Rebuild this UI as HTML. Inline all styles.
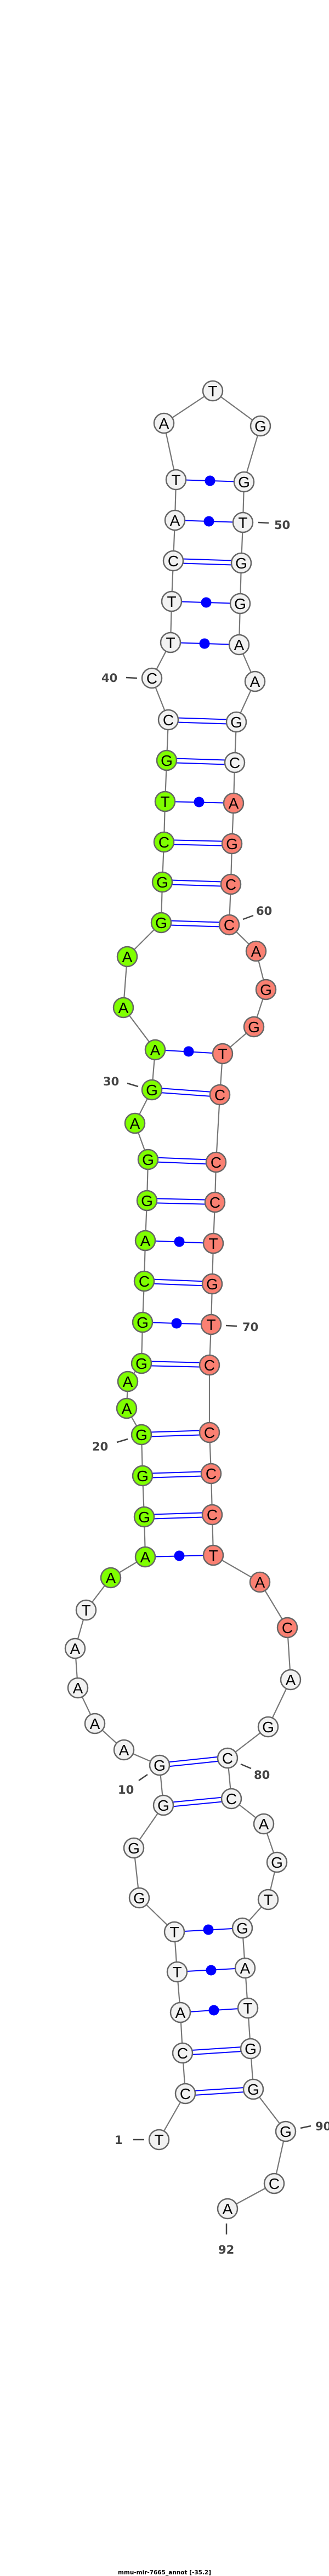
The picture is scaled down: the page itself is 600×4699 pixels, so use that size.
<!DOCTYPE html>
<html><head><meta charset="utf-8"><style>
html,body{margin:0;padding:0;background:#fff;}
svg{display:block;}
.n{stroke:#666;stroke-width:2.5;}
.w{fill:#f2f2f2;}.g{fill:#7fff00;}.s{fill:#fa8072;}
.t text{font-family:"Liberation Sans",sans-serif;font-size:28px;text-anchor:middle;fill:#000;}
.l{font-family:"DejaVu Sans","Liberation Sans",sans-serif;font-weight:bold;font-size:21px;fill:#444;}
.p{stroke:#0000ff;stroke-width:2;}
.d{stroke:#444;stroke-width:2.5;}
</style></head><body>
<svg width="600" height="4699" viewBox="0 0 600 4699" xmlns="http://www.w3.org/2000/svg">
<polyline fill="none" stroke="#777" stroke-width="2.2" points="290,3903 338,3819 333,3745 329,3671 323,3597 318,3524 254,3462 244,3371 298,3293 291,3220 226,3192 173,3144 142,3079 137,3007 157,2937 202,2878 265,2840 263,2767 260,2692 258,2617 231,2569 233,2520 258,2487 260,2412 263,2337 265,2263 268,2190 270,2115 246,2049 277,1988 283,1915 225,1838 232,1745 294,1683 296,1609 299,1536 301,1462 304,1387 307,1313 277,1237 311,1172 313,1097 316,1023 319,949 321,875 299,772 388,713 475,777 445,879 443,953 440,1027 438,1101 436,1176 465,1243 431,1317 428,1391 426,1465 423,1539 421,1613 418,1687 467,1735 485,1805 463,1873 406,1922 401,1997 394,2120 392,2193 389,2268 387,2342 385,2416 382,2490 382,2613 385,2688 387,2763 389,2837 474,2886 524,2969 530,3064 489,3150 415,3207 422,3281 481,3327 505,3397 489,3465 442,3517 447,3590 452,3663 457,3737 462,3811 521,3888 500,3983 415,4029"/>
<g class="p">
<line x1="338" y1="3815" x2="462" y2="3807"/><line x1="338" y1="3823" x2="462" y2="3815"/>
<line x1="333" y1="3741" x2="457" y2="3733"/><line x1="333" y1="3749" x2="457" y2="3741"/>
<line x1="298" y1="3289" x2="422" y2="3277"/><line x1="298" y1="3297" x2="422" y2="3285"/>
<line x1="291" y1="3216" x2="415" y2="3203"/><line x1="291" y1="3224" x2="415" y2="3211"/>
<line x1="263" y1="2763" x2="387" y2="2759"/><line x1="263" y1="2771" x2="387" y2="2767"/>
<line x1="260" y1="2688" x2="385" y2="2684"/><line x1="260" y1="2696" x2="385" y2="2692"/>
<line x1="258" y1="2613" x2="382" y2="2609"/><line x1="258" y1="2621" x2="382" y2="2617"/>
<line x1="258" y1="2483" x2="382" y2="2486"/><line x1="258" y1="2491" x2="382" y2="2494"/>
<line x1="263" y1="2333" x2="387" y2="2338"/><line x1="263" y1="2341" x2="387" y2="2346"/>
<line x1="268" y1="2186" x2="392" y2="2189"/><line x1="268" y1="2194" x2="392" y2="2197"/>
<line x1="270" y1="2111" x2="394" y2="2116"/><line x1="270" y1="2119" x2="394" y2="2124"/>
<line x1="277" y1="1984" x2="401" y2="1993"/><line x1="277" y1="1992" x2="401" y2="2001"/>
<line x1="294" y1="1679" x2="418" y2="1683"/><line x1="294" y1="1687" x2="418" y2="1691"/>
<line x1="296" y1="1605" x2="421" y2="1609"/><line x1="296" y1="1613" x2="421" y2="1617"/>
<line x1="299" y1="1532" x2="423" y2="1535"/><line x1="299" y1="1540" x2="423" y2="1543"/>
<line x1="304" y1="1383" x2="428" y2="1387"/><line x1="304" y1="1391" x2="428" y2="1395"/>
<line x1="307" y1="1309" x2="431" y2="1313"/><line x1="307" y1="1317" x2="431" y2="1321"/>
<line x1="316" y1="1019" x2="440" y2="1023"/><line x1="316" y1="1027" x2="440" y2="1031"/>
<line x1="329" y1="3671" x2="452" y2="3663"/>
<line x1="323" y1="3597" x2="447" y2="3590"/>
<line x1="318" y1="3524" x2="442" y2="3517"/>
<line x1="265" y1="2840" x2="389" y2="2837"/>
<line x1="260" y1="2412" x2="385" y2="2416"/>
<line x1="265" y1="2263" x2="389" y2="2268"/>
<line x1="283" y1="1915" x2="406" y2="1922"/>
<line x1="301" y1="1462" x2="426" y2="1465"/>
<line x1="311" y1="1172" x2="436" y2="1176"/>
<line x1="313" y1="1097" x2="438" y2="1101"/>
<line x1="319" y1="949" x2="443" y2="953"/>
<line x1="321" y1="875" x2="445" y2="879"/>
</g>
<g fill="#0000ff">
<circle cx="390" cy="3667" r="9.5"/><circle cx="385" cy="3594" r="9.5"/><circle cx="380" cy="3520" r="9.5"/>
<circle cx="327" cy="2838" r="9.5"/><circle cx="322" cy="2414" r="9.5"/><circle cx="327" cy="2265" r="9.5"/>
<circle cx="344" cy="1918" r="9.5"/><circle cx="363" cy="1463" r="9.5"/><circle cx="373" cy="1174" r="9.5"/>
<circle cx="376" cy="1099" r="9.5"/><circle cx="381" cy="951" r="9.5"/><circle cx="383" cy="877" r="9.5"/>
</g>
<g class="n">
<circle class="w" cx="290" cy="3903" r="18"/><circle class="w" cx="338" cy="3819" r="18"/><circle class="w" cx="333" cy="3745" r="18"/><circle class="w" cx="329" cy="3671" r="18"/><circle class="w" cx="323" cy="3597" r="18"/><circle class="w" cx="318" cy="3524" r="18"/><circle class="w" cx="254" cy="3462" r="18"/><circle class="w" cx="244" cy="3371" r="18"/><circle class="w" cx="298" cy="3293" r="18"/><circle class="w" cx="291" cy="3220" r="18"/><circle class="w" cx="226" cy="3192" r="18"/><circle class="w" cx="173" cy="3144" r="18"/><circle class="w" cx="142" cy="3079" r="18"/><circle class="w" cx="137" cy="3007" r="18"/><circle class="w" cx="157" cy="2937" r="18"/>
<circle class="g" cx="202" cy="2878" r="18"/><circle class="g" cx="265" cy="2840" r="18"/><circle class="g" cx="263" cy="2767" r="18"/><circle class="g" cx="260" cy="2692" r="18"/><circle class="g" cx="258" cy="2617" r="18"/><circle class="g" cx="231" cy="2569" r="18"/><circle class="g" cx="233" cy="2520" r="18"/><circle class="g" cx="258" cy="2487" r="18"/><circle class="g" cx="260" cy="2412" r="18"/><circle class="g" cx="263" cy="2337" r="18"/><circle class="g" cx="265" cy="2263" r="18"/><circle class="g" cx="268" cy="2190" r="18"/><circle class="g" cx="270" cy="2115" r="18"/><circle class="g" cx="246" cy="2049" r="18"/><circle class="g" cx="277" cy="1988" r="18"/><circle class="g" cx="283" cy="1915" r="18"/><circle class="g" cx="225" cy="1838" r="18"/><circle class="g" cx="232" cy="1745" r="18"/><circle class="g" cx="294" cy="1683" r="18"/><circle class="g" cx="296" cy="1609" r="18"/><circle class="g" cx="299" cy="1536" r="18"/><circle class="g" cx="301" cy="1462" r="18"/><circle class="g" cx="304" cy="1387" r="18"/>
<circle class="w" cx="307" cy="1313" r="18"/><circle class="w" cx="277" cy="1237" r="18"/><circle class="w" cx="311" cy="1172" r="18"/><circle class="w" cx="313" cy="1097" r="18"/><circle class="w" cx="316" cy="1023" r="18"/><circle class="w" cx="319" cy="949" r="18"/><circle class="w" cx="321" cy="875" r="18"/><circle class="w" cx="299" cy="772" r="18"/><circle class="w" cx="388" cy="713" r="18"/><circle class="w" cx="475" cy="777" r="18"/><circle class="w" cx="445" cy="879" r="18"/><circle class="w" cx="443" cy="953" r="18"/><circle class="w" cx="440" cy="1027" r="18"/><circle class="w" cx="438" cy="1101" r="18"/><circle class="w" cx="436" cy="1176" r="18"/><circle class="w" cx="465" cy="1243" r="18"/><circle class="w" cx="431" cy="1317" r="18"/><circle class="w" cx="428" cy="1391" r="18"/>
<circle class="s" cx="426" cy="1465" r="18"/><circle class="s" cx="423" cy="1539" r="18"/><circle class="s" cx="421" cy="1613" r="18"/><circle class="s" cx="418" cy="1687" r="18"/><circle class="s" cx="467" cy="1735" r="18"/><circle class="s" cx="485" cy="1805" r="18"/><circle class="s" cx="463" cy="1873" r="18"/><circle class="s" cx="406" cy="1922" r="18"/><circle class="s" cx="401" cy="1997" r="18"/><circle class="s" cx="394" cy="2120" r="18"/><circle class="s" cx="392" cy="2193" r="18"/><circle class="s" cx="389" cy="2268" r="18"/><circle class="s" cx="387" cy="2342" r="18"/><circle class="s" cx="385" cy="2416" r="18"/><circle class="s" cx="382" cy="2490" r="18"/><circle class="s" cx="382" cy="2613" r="18"/><circle class="s" cx="385" cy="2688" r="18"/><circle class="s" cx="387" cy="2763" r="18"/><circle class="s" cx="389" cy="2837" r="18"/><circle class="s" cx="474" cy="2886" r="18"/><circle class="s" cx="524" cy="2969" r="18"/>
<circle class="w" cx="530" cy="3064" r="18"/><circle class="w" cx="489" cy="3150" r="18"/><circle class="w" cx="415" cy="3207" r="18"/><circle class="w" cx="422" cy="3281" r="18"/><circle class="w" cx="481" cy="3327" r="18"/><circle class="w" cx="505" cy="3397" r="18"/><circle class="w" cx="489" cy="3465" r="18"/><circle class="w" cx="442" cy="3517" r="18"/><circle class="w" cx="447" cy="3590" r="18"/><circle class="w" cx="452" cy="3663" r="18"/><circle class="w" cx="457" cy="3737" r="18"/><circle class="w" cx="462" cy="3811" r="18"/><circle class="w" cx="521" cy="3888" r="18"/><circle class="w" cx="500" cy="3983" r="18"/><circle class="w" cx="415" cy="4029" r="18"/>
</g>
<g class="t" transform="translate(0,2)">
<text x="290" y="3911">T</text><text x="338" y="3827">C</text><text x="333" y="3753">C</text><text x="329" y="3679">A</text><text x="323" y="3605">T</text><text x="318" y="3532">T</text><text x="254" y="3470">G</text><text x="244" y="3379">G</text><text x="298" y="3301">G</text><text x="291" y="3228">G</text><text x="226" y="3200">A</text><text x="173" y="3152">A</text><text x="142" y="3087">A</text><text x="137" y="3015">A</text><text x="157" y="2945">T</text>
<text x="202" y="2886">A</text><text x="265" y="2848">A</text><text x="263" y="2775">G</text><text x="260" y="2700">G</text><text x="258" y="2625">G</text><text x="231" y="2577">A</text><text x="233" y="2528">A</text><text x="258" y="2495">G</text><text x="260" y="2420">G</text><text x="263" y="2345">C</text><text x="265" y="2271">A</text><text x="268" y="2198">G</text><text x="270" y="2123">G</text><text x="246" y="2057">A</text><text x="277" y="1996">G</text><text x="283" y="1923">A</text><text x="225" y="1846">A</text><text x="232" y="1753">A</text><text x="294" y="1691">G</text><text x="296" y="1617">G</text><text x="299" y="1544">C</text><text x="301" y="1470">T</text><text x="304" y="1395">G</text>
<text x="307" y="1321">C</text><text x="277" y="1245">C</text><text x="311" y="1180">T</text><text x="313" y="1105">T</text><text x="316" y="1031">C</text><text x="319" y="957">A</text><text x="321" y="883">T</text><text x="299" y="780">A</text><text x="388" y="721">T</text><text x="475" y="785">G</text><text x="445" y="887">G</text><text x="443" y="961">T</text><text x="440" y="1035">G</text><text x="438" y="1109">G</text><text x="436" y="1184">A</text><text x="465" y="1251">A</text><text x="431" y="1325">G</text><text x="428" y="1399">C</text>
<text x="426" y="1473">A</text><text x="423" y="1547">G</text><text x="421" y="1621">C</text><text x="418" y="1695">C</text><text x="467" y="1743">A</text><text x="485" y="1813">G</text><text x="463" y="1881">G</text><text x="406" y="1930">T</text><text x="401" y="2005">C</text><text x="394" y="2128">C</text><text x="392" y="2201">C</text><text x="389" y="2276">T</text><text x="387" y="2350">G</text><text x="385" y="2424">T</text><text x="382" y="2498">C</text><text x="382" y="2621">C</text><text x="385" y="2696">C</text><text x="387" y="2771">C</text><text x="389" y="2845">T</text><text x="474" y="2894">A</text><text x="524" y="2977">C</text>
<text x="530" y="3072">A</text><text x="489" y="3158">G</text><text x="415" y="3215">C</text><text x="422" y="3289">C</text><text x="481" y="3335">A</text><text x="505" y="3405">G</text><text x="489" y="3473">T</text><text x="442" y="3525">G</text><text x="447" y="3598">A</text><text x="452" y="3671">T</text><text x="457" y="3745">G</text><text x="462" y="3819">G</text><text x="521" y="3896">G</text><text x="500" y="3991">C</text><text x="415" y="4037">A</text>
</g>
<g class="d">
<line x1="471" y1="953" x2="490" y2="954"/>
<line x1="230" y1="1236" x2="250" y2="1237"/>
<line x1="443" y1="1677" x2="462" y2="1670"/>
<line x1="232" y1="1976" x2="252" y2="1982"/>
<line x1="412" y1="2418" x2="432" y2="2419"/>
<line x1="213" y1="2631" x2="233" y2="2625"/>
<line x1="253" y1="3248" x2="269" y2="3237"/>
<line x1="439" y1="3218" x2="458" y2="3226"/>
<line x1="243" y1="3903" x2="263" y2="3903"/>
<line x1="548" y1="3882" x2="567" y2="3878"/>
<line x1="413" y1="4056" x2="413" y2="4076"/>
</g>
<g class="l">
<text x="500" y="965">50</text>
<text x="185" y="1244">40</text>
<text x="467" y="1669">60</text>
<text x="188" y="1980">30</text>
<text x="442" y="2428">70</text>
<text x="168" y="2646">20</text>
<text x="215" y="3272">10</text>
<text x="463" y="3245">80</text>
<text x="209" y="3911">1</text>
<text x="575" y="3886">90</text>
<text x="398" y="4111">92</text>
</g>
<text x="300" y="4696" text-anchor="middle" style="font-family:'DejaVu Sans','Liberation Sans',sans-serif;font-weight:bold;font-size:10.5px;fill:#000;">mmu-mir-7665_annot [-35.2]</text>
</svg>
</body></html>
